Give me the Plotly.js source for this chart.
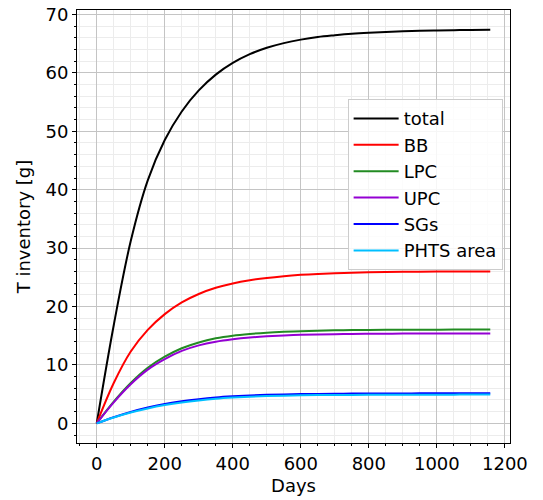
<!DOCTYPE html>
<html>
<head>
<meta charset="utf-8">
<script src="https://cdn.plot.ly/plotly-3.0.1.min.js"></script>
<style>html,body{margin:0;padding:0;background:#fff;}#chart{width:543px;height:500px;}</style>
</head>
<body>
<div id="chart"></div>
<script>
// Days sampled along the curves
const days = [0, 50, 100, 150, 200, 250, 300, 350, 400, 450, 500, 550, 600, 650, 700, 750, 800, 850, 900, 950, 1000, 1050, 1100, 1157];

// Tritium inventory [g]
const total = [0, 16.8, 31.2, 41.6, 48.5, 53.4, 57.0, 59.7, 61.7, 63.2, 64.3, 65.1, 65.7, 66.15, 66.45, 66.7, 66.88, 67.02, 67.13, 67.21, 67.27, 67.32, 67.36, 67.4];
const bb    = [0, 6.9, 12.3, 16.0, 18.7, 20.7, 22.15, 23.2, 23.95, 24.5, 24.9, 25.2, 25.42, 25.58, 25.7, 25.79, 25.86, 25.91, 25.94, 25.96, 25.98, 25.99, 26.0, 26.0];
const lpc   = [0, 3.7, 6.9, 9.5, 11.4, 12.85, 13.85, 14.55, 15.0, 15.3, 15.52, 15.67, 15.78, 15.86, 15.92, 15.96, 15.99, 16.01, 16.02, 16.03, 16.04, 16.05, 16.05, 16.05];
const upc   = [0, 3.6, 6.7, 9.2, 11.0, 12.4, 13.35, 13.98, 14.4, 14.7, 14.9, 15.05, 15.15, 15.22, 15.27, 15.3, 15.32, 15.34, 15.36, 15.37, 15.38, 15.39, 15.4, 15.4];
const sgs   = [0, 1.05, 1.95, 2.7, 3.3, 3.78, 4.14, 4.42, 4.62, 4.77, 4.88, 4.95, 5.0, 5.04, 5.07, 5.09, 5.1, 5.11, 5.12, 5.13, 5.13, 5.14, 5.14, 5.15];
const phts  = [0, 1.0, 1.85, 2.55, 3.12, 3.57, 3.92, 4.2, 4.4, 4.55, 4.66, 4.74, 4.79, 4.83, 4.85, 4.87, 4.88, 4.89, 4.9, 4.9, 4.91, 4.91, 4.92, 4.92];

const seriesNames = ['total', 'BB', 'LPC', 'UPC', 'SGs', 'PHTS area'];
const seriesData = [total, bb, lpc, upc, sgs, phts];
const seriesColors = ['#000000', '#ff0000', '#228b22', '#9400d3', '#0000ff', '#00bfff'];

const traces = seriesNames.map((name, i) => ({
  x: days,
  y: seriesData[i],
  name: name,
  type: 'scatter',
  mode: 'lines',
  line: {color: seriesColors[i], width: 2, shape: 'spline', smoothing: 1}
}));

const font = {family: 'DejaVu Sans, sans-serif', size: 18, color: '#000'};

const layout = {
  width: 543,
  height: 500,
  margin: {l: 77, r: 33, t: 10, b: 57},
  paper_bgcolor: '#fff',
  plot_bgcolor: '#fff',
  font: font,
  showlegend: true,
  legend: {
    x: 0.625, y: 0.794, xanchor: 'left', yanchor: 'top',
    bgcolor: 'rgba(255,255,255,0.85)',
    bordercolor: '#cccccc', borderwidth: 1,
    font: {family: 'DejaVu Sans, sans-serif', size: 18, color: '#000'},
    itemwidth: 45,
    tracegroupgap: 0
  },
  xaxis: {
    range: [-58, 1215],
    tickmode: 'linear', tick0: 0, dtick: 200,
    ticks: 'outside', ticklen: 4, tickwidth: 1, tickcolor: '#000',
    showgrid: true, gridcolor: '#c4c4c4', gridwidth: 1,
    zeroline: false,
    showline: true, linecolor: '#000', linewidth: 1, mirror: true,
    minor: {dtick: 50, tick0: 0, ticks: 'outside', ticklen: 2, tickcolor: '#000', showgrid: true, gridcolor: '#ececec', gridwidth: 1},
    tickfont: font,
    title: {text: 'Days', font: font, standoff: 6}
  },
  yaxis: {
    range: [-3.37, 70.77],
    tickmode: 'linear', tick0: 0, dtick: 10,
    ticks: 'outside', ticklen: 4, tickwidth: 1, tickcolor: '#000',
    showgrid: true, gridcolor: '#c4c4c4', gridwidth: 1,
    zeroline: false,
    showline: true, linecolor: '#000', linewidth: 1, mirror: true,
    minor: {dtick: 2, tick0: 0, ticks: 'outside', ticklen: 2, tickcolor: '#000', showgrid: true, gridcolor: '#ececec', gridwidth: 1},
    tickfont: font,
    title: {text: 'T inventory [g]', font: font, standoff: 10}
  }
};

Plotly.newPlot('chart', traces, layout, {displayModeBar: false, staticPlot: true});
</script>
</body>
</html>
